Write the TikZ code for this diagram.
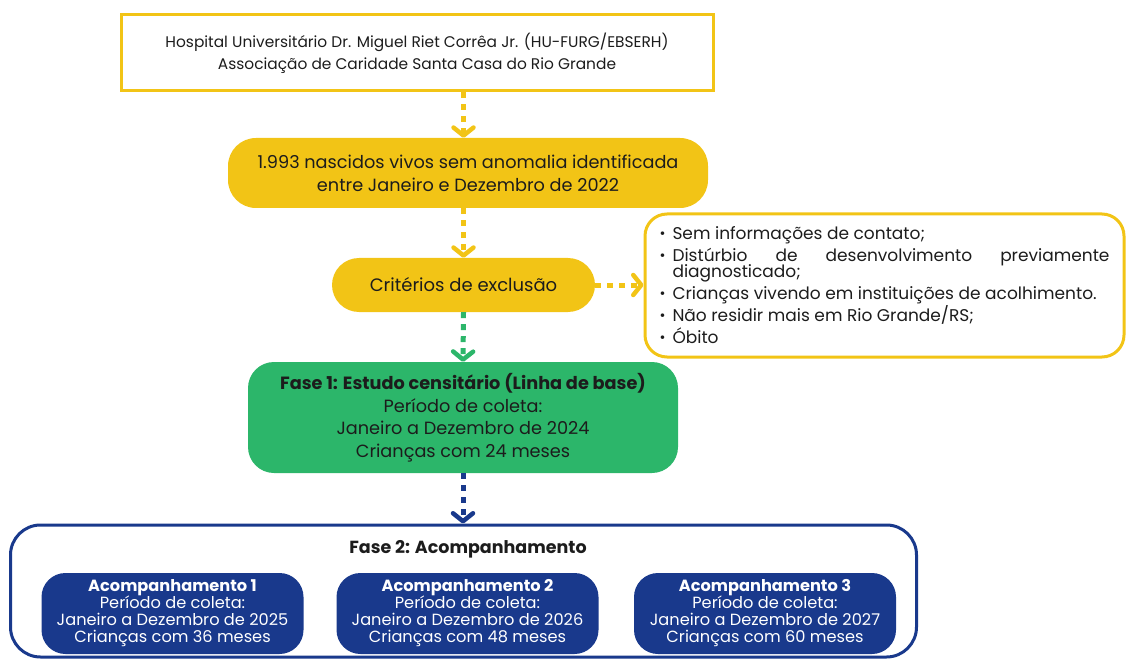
\documentclass[tikz,border=0pt]{standalone}
\usepackage{fontspec}
\setmainfont{Poppins}
\usetikzlibrary{arrows.meta,positioning}
\definecolor{ouro}{RGB}{242,196,22}
\definecolor{verde}{RGB}{44,182,106}
\definecolor{marinho}{RGB}{25,57,140}
\definecolor{tinta}{RGB}{28,28,28}
\tikzset{
  caixa/.style={rectangle, align=center, text=tinta, inner sep=0pt},
  seta/.style={line width=5pt, dash pattern=on 6pt off 6pt,
    -{Straight Barb[length=8pt,width=20pt,line width=4.5pt,round]}},
  acomp/.style={caixa, fill=marinho, text=white, rounded corners=24pt,
    minimum width=262pt, minimum height=81pt,
    font=\fontsize{16.2}{17}\selectfont},
}
\newcommand{\marca}{\makebox[13pt][l]{\raisebox{1.5pt}{\scalebox{0.85}{\textbullet}}}}
\newcommand{\listafonte}{\fontsize{17}{16}\selectfont\lineskiplimit=-20pt\relax}
\begin{document}
\begin{tikzpicture}[x=1pt,y=-1pt]
  \useasboundingbox (0,0) rectangle (1129,660);
  % caixas principais
  \node[caixa, draw=ouro, line width=3pt, minimum width=592pt, minimum height=76pt,
    font=\fontsize{15.4}{22}\selectfont] (hosp) at (417,53)
    {Hospital Universitário Dr. Miguel Riet Corrêa Jr. (HU-FURG/EBSERH)\\
     Associação de Caridade Santa Casa do Rio Grande};
  \node[caixa, fill=ouro, rounded corners=28pt, minimum width=480pt, minimum height=70pt,
    font=\fontsize{17.7}{23}\selectfont] (nasc) at (468,173)
    {1.993 nascidos vivos sem anomalia identificada\\
     entre Janeiro e Dezembro de 2022};
  \node[caixa, fill=ouro, rounded corners=27pt, minimum width=263pt, minimum height=54pt,
    font=\fontsize{18}{20}\selectfont] (crit) at (463.5,285)
    {Critérios de exclusão};
  \node[caixa, draw=ouro, line width=3pt, rounded corners=22pt, align=left,
    minimum width=479pt, minimum height=143pt, font=\listafonte] (excl) at (884.5,285.5)
    {\marca Sem informações de contato;\\[6pt]
     \marca\makebox[437pt][s]{Distúrbio de desenvolvimento previamente}\\
     \hspace*{13pt}diagnosticado;\\[6pt]
     \marca Crianças vivendo em instituições de acolhimento.\\[6pt]
     \marca Não residir mais em Rio Grande/RS;\\[6pt]
     \marca Óbito};
  \node[caixa, fill=verde, rounded corners=26pt, minimum width=430pt, minimum height=111pt,
    font=\fontsize{17.7}{22.5}\selectfont] (fase1) at (463,417.5)
    {\textbf{Fase 1: Estudo censitário (Linha de base)}\\
     Período de coleta:\\
     Janeiro a Dezembro de 2024\\
     Crianças com 24 meses};
  % fase 2
  \node[caixa, draw=marinho, line width=3pt, rounded corners=30pt,
    minimum width=906pt, minimum height=132pt] (fase2) at (463.5,591) {};
  \node[caixa, font=\fontsize{17.5}{20}\selectfont\bfseries] (fase2tit) at (468,549)
    {Fase 2: Acompanhamento};
  \node[acomp] (acomp1) at (172.5,613.5)
    {\textbf{Acompanhamento 1}\\Período de coleta:\\
     Janeiro a Dezembro de 2025\\Crianças com 36 meses};
  \node[acomp] (acomp2) at (467.5,613.5)
    {\textbf{Acompanhamento 2}\\Período de coleta:\\
     Janeiro a Dezembro de 2026\\Crianças com 48 meses};
  \node[acomp] (acomp3) at (765,613.5)
    {\textbf{Acompanhamento 3}\\Período de coleta:\\
     Janeiro a Dezembro de 2027\\Crianças com 60 meses};
  % setas
  \draw[seta, ouro] (hosp.south -| crit.north) -- (crit.north |- nasc.north);
  \draw[seta, ouro] (crit.north |- nasc.south) -- (crit.north);
  \draw[seta, ouro] (crit.east) -- (excl.west |- crit.east);
  \draw[seta, verde] (crit.south) -- (fase1.north);
  \draw[seta, marinho] (fase1.south) -- (fase1.south |- fase2.north);
\end{tikzpicture}
\end{document}
